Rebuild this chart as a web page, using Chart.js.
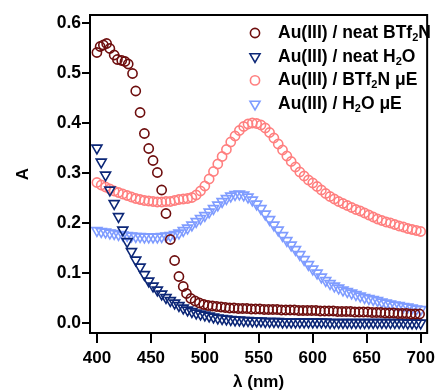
<!DOCTYPE html>
<html>
<head>
<meta charset="utf-8">
<script src="https://cdn.jsdelivr.net/npm/chart.js@4"></script>
<style>
  html, body { margin: 0; padding: 0; background: #fff; }
  canvas { display: block; }
</style>
</head>
<body>
<canvas id="absChart" width="440" height="392"></canvas>
<script>
// wavelength grid (nm) shared by three of the series
const wavelengths = [400,404,408,412,416,420,424,428,432,436,440,444,448,452,456,460,464,468,472,476,
  480,484,488,492,496,500,504,508,512,516,520,524,528,532,536,540,544,548,552,556,
  560,564,568,572,576,580,584,588,592,596,600,604,608,612,616,620,624,628,632,636,
  640,644,648,652,656,660,664,668,672,676,680,684,688,692,696,700];

// neat BTf2N has its own wavelengths
const neatBTf2NWavelengths = [400,403,406,409,412,416,419,423,426,429,433,436,440,444,448,452,456,460,464,468,
  472,476,480,483,487,491,495,499,503,507,511,515,519,523,527,531,535,539,543,547,
  551,555,559,563,567,571,575,579,583,587,591,595,599,603,607,611,615,619,623,627,
  631,635,639,643,647,651,655,659,663,667,671,675,679,683,687,691,695,699];
const neatBTf2N = [0.541,0.553,0.556,0.559,0.549,0.536,0.527,0.525,0.523,0.518,0.499,0.464,0.421,0.379,0.349,0.325,0.301,0.266,0.219,0.167,
  0.125,0.093,0.073,0.059,0.049,0.044,0.040,0.037,0.035,0.034,0.033,0.032,0.031,0.030,0.030,0.029,0.029,0.029,0.028,0.028,
  0.028,0.027,0.027,0.027,0.027,0.026,0.026,0.026,0.026,0.025,0.025,0.025,0.025,0.025,0.024,0.024,0.024,0.024,0.023,0.023,
  0.023,0.023,0.022,0.022,0.022,0.022,0.021,0.021,0.021,0.020,0.020,0.020,0.019,0.019,0.019,0.018,0.018,0.018];

const neatH2O = [0.350,0.322,0.296,0.266,0.239,0.213,0.186,0.163,0.143,0.126,
  0.112,0.097,0.084,0.074,0.066,0.058,0.051,0.045,0.040,0.035,
  0.030,0.026,0.023,0.020,0.018,0.016,0.014,0.012,0.010,0.009,
  0.008,0.007,0.006,0.006,0.005,0.005,0.004,0.004,0.004,0.003,
  0.003,0.003,0.003,0.002,0.002,0.002,0.002,0.002,0.002,0.002,
  0.002,0.002,0.002,0.002,0.001,0.001,0.001,0.001,0.001,0.001,
  0.001,0.001,0.001,0.001,0.001,0.001,0.001,0.001,0.001,0.001,
  0.001,0.001,0.000,0.000,0.000,0.000];

const btf2nME = [0.281,0.276,0.272,0.268,0.264,0.261,0.258,0.255,0.252,0.249,
  0.247,0.245,0.244,0.243,0.242,0.242,0.243,0.243,0.245,0.247,
  0.248,0.249,0.251,0.256,0.264,0.274,0.288,0.303,0.318,0.333,
  0.347,0.362,0.374,0.385,0.393,0.398,0.400,0.399,0.396,0.390,
  0.381,0.370,0.358,0.346,0.334,0.323,0.312,0.302,0.294,0.286,
  0.280,0.273,0.266,0.259,0.253,0.248,0.243,0.239,0.235,0.231,
  0.227,0.224,0.220,0.216,0.212,0.208,0.205,0.202,0.200,0.197,
  0.194,0.192,0.189,0.187,0.185,0.183];

const h2oME = [0.185,0.183,0.182,0.180,0.179,0.177,0.176,0.175,0.174,0.173,
  0.173,0.172,0.172,0.172,0.172,0.173,0.174,0.175,0.177,0.180,
  0.185,0.190,0.196,0.203,0.209,0.215,0.222,0.229,0.236,0.243,
  0.249,0.254,0.257,0.258,0.256,0.252,0.246,0.238,0.229,0.218,
  0.207,0.196,0.186,0.175,0.165,0.156,0.147,0.137,0.127,0.117,
  0.108,0.100,0.092,0.085,0.079,0.074,0.070,0.066,0.063,0.060,
  0.057,0.054,0.051,0.049,0.047,0.045,0.042,0.040,0.038,0.036,
  0.035,0.033,0.032,0.030,0.028,0.027];

const legendLabels = ['Au(III) / neat BTf_2N', 'Au(III) / neat H_2O', 'Au(III) / BTf_2N \u03bcE', 'Au(III) / H_2O \u03bcE'];
const xTicks = [400, 450, 500, 550, 600, 650, 700];
const yTicks = [0.0, 0.1, 0.2, 0.3, 0.4, 0.5, 0.6];

const colors = ['#6e0e0e', '#0c2777', '#ff7f7f', '#7f9cff'];
const FONT = "'Liberation Sans', Arial, Helvetica, sans-serif";

function toPoints(xs, ys) {
    return ys.map((y, i) => ({ x: xs[i], y: y }));
}

// plot frame (top and right sides)
const framePlugin = {
    id: 'frame',
    afterDraw(chart) {
        const { ctx, chartArea } = chart;
        ctx.save();
        ctx.strokeStyle = '#000';
        ctx.lineWidth = 2;
        ctx.strokeRect(chartArea.left, chartArea.top, chartArea.right - chartArea.left, chartArea.bottom - chartArea.top);
        ctx.restore();
    }
};

// legend inside the plot, with subscripts
const legendPlugin = {
    id: 'subLegend',
    afterDraw(chart) {
        const ctx = chart.ctx;
        const markX = 255, textX = 278, startY = 33, rowH = 23.7;
        ctx.save();
        chart.data.datasets.forEach((ds, i) => {
            const y = startY + i * rowH;
            ctx.strokeStyle = ds.borderColor;
            ctx.lineWidth = 1.6;
            ctx.beginPath();
            if (ds.pointStyle === 'circle') {
                ctx.arc(markX, y, 4.6, 0, Math.PI * 2);
            } else {
                const r = 5.8;
                ctx.moveTo(markX - r * 0.866, y - r / 2);
                ctx.lineTo(markX + r * 0.866, y - r / 2);
                ctx.lineTo(markX, y + r);
                ctx.closePath();
            }
            ctx.stroke();

            // text parts: "_2" means subscript 2
            ctx.fillStyle = '#000';
            ctx.textBaseline = 'middle';
            let x = textX;
            const parts = legendLabels[i].split(/(_\d)/);
            parts.forEach(p => {
                if (p.startsWith('_')) {
                    ctx.font = 'bold 11px ' + FONT;
                    ctx.fillText(p.slice(1), x, y + 5);
                    x += ctx.measureText(p.slice(1)).width;
                } else if (p.length) {
                    ctx.font = 'bold 17.5px ' + FONT;
                    ctx.fillText(p, x, y);
                    x += ctx.measureText(p).width;
                }
            });
        });
        ctx.restore();
    }
};

const ctx = document.getElementById('absChart').getContext('2d');
const absChart = new Chart(ctx, {
    type: 'scatter',
    data: {
        datasets: [
            { label: legendLabels[0], data: toPoints(neatBTf2NWavelengths, neatBTf2N), pointStyle: 'circle',
              borderColor: colors[0], backgroundColor: 'rgba(0,0,0,0)', pointRadius: 4.6, pointBorderWidth: 1.6 },
            { label: legendLabels[1], data: toPoints(wavelengths, neatH2O), pointStyle: 'triangle', rotation: 180,
              borderColor: colors[1], backgroundColor: 'rgba(0,0,0,0)', pointRadius: 5.8, pointBorderWidth: 1.6 },
            { label: legendLabels[2], data: toPoints(wavelengths, btf2nME), pointStyle: 'circle',
              borderColor: colors[2], backgroundColor: 'rgba(0,0,0,0)', pointRadius: 4.6, pointBorderWidth: 1.6 },
            { label: legendLabels[3], data: toPoints(wavelengths, h2oME), pointStyle: 'triangle', rotation: 180,
              borderColor: colors[3], backgroundColor: 'rgba(0,0,0,0)', pointRadius: 5.8, pointBorderWidth: 1.6 }
        ]
    },
    options: {
        responsive: false,
        animation: false,
        devicePixelRatio: 1,
        layout: { padding: { top: 15, right: 7, left: 0, bottom: 0 } },
        plugins: {
            legend: { display: false },
            tooltip: { enabled: false }
        },
        scales: {
            x: {
                type: 'linear',
                min: 393.6,
                max: 706,
                afterFit(scale) { scale.height = 59; },
                afterBuildTicks(scale) { scale.ticks = xTicks.map(v => ({ value: v })); },
                border: { display: true, color: '#000', width: 2 },
                grid: { drawOnChartArea: false, drawTicks: true, tickLength: 10, color: '#000', lineWidth: 2 },
                ticks: {
                    color: '#000', padding: 5, maxRotation: 0,
                    font: { family: FONT, size: 17, weight: 'bold' }
                },
                title: {
                    display: true, text: '\u03bb (nm)', color: '#000',
                    font: { family: FONT, size: 17, weight: 'bold', lineHeight: 1 },
                    padding: { top: 0, bottom: 1 }
                }
            },
            y: {
                type: 'linear',
                min: -0.02,
                max: 0.616,
                afterFit(scale) { scale.width = 90; },
                afterBuildTicks(scale) { scale.ticks = yTicks.map(v => ({ value: v })); },
                border: { display: true, color: '#000', width: 2 },
                grid: { drawOnChartArea: false, drawTicks: true, tickLength: 8, color: '#000', lineWidth: 2 },
                ticks: {
                    color: '#000', padding: 1,
                    font: { family: FONT, size: 17.5, weight: 'bold' },
                    callback: v => v.toFixed(1)
                },
                title: {
                    display: true, text: 'A', color: '#000',
                    font: { family: FONT, size: 17, weight: 'bold', lineHeight: 1 },
                    padding: { top: 15, bottom: 0 }
                }
            }
        }
    },
    plugins: [framePlugin, legendPlugin]
});
</script>
</body>
</html>
